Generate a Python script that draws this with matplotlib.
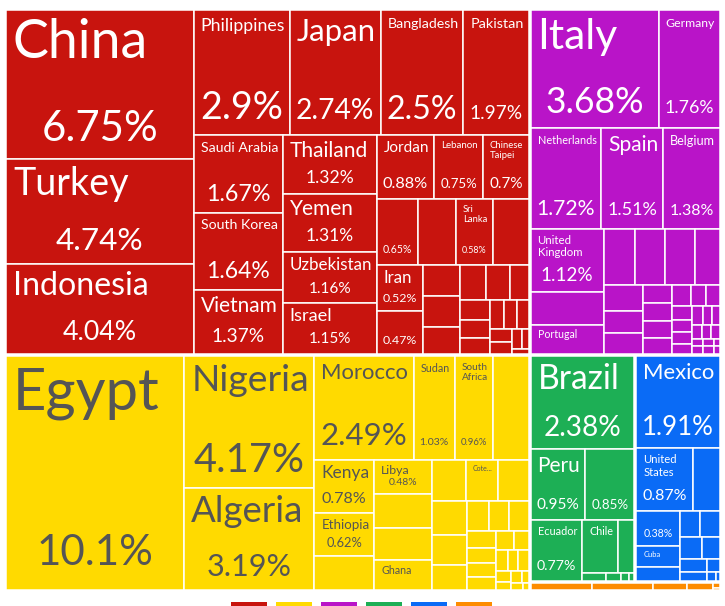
import matplotlib
matplotlib.use("Agg")
import matplotlib.pyplot as plt
from matplotlib.patches import Rectangle

# -------- DATA (share of total, %) --------
asia_names = ["China", "Turkey", "Indonesia", "Philippines", "Japan", "Bangladesh", "Pakistan",
              "Saudi Arabia", "South Korea", "Vietnam", "Thailand", "Yemen", "Uzbekistan", "Israel",
              "Jordan", "Lebanon", "Chinese\nTaipei", "", None, "Sri\nLanka", None, "Iran", ""]
asia_values = [6.75, 4.74, 4.04, 2.9, 2.74, 2.5, 1.97, 1.67, 1.64, 1.37, 1.32, 1.31, 1.16, 1.15,
               0.88, 0.75, 0.7, 0.65, 0.6, 0.58, 0.57, 0.52, 0.47, 0.28, 0.27, 0.24, 0.22, 0.2,
               0.16, 0.15, 0.13, 0.11, 0.1, 0.09, 0.08, 0.07, 0.06, 0.05, 0.03, 0.02]

africa_names = ["Egypt", "Nigeria", "Algeria", "Morocco", "Sudan", "South\nAfrica", None, "Kenya",
                "Ethiopia", None, "Libya", None, None, "Ghana", None, "Cote...", None]
africa_values = [10.1, 4.17, 3.19, 2.49, 1.03, 0.96, 0.9, 0.78, 0.62, 0.49, 0.48, 0.47, 0.45,
                 0.41, 0.34, 0.32, 0.31, 0.29, 0.25, 0.21, 0.16, 0.15, 0.14, 0.12, 0.11, 0.1,
                 0.09, 0.08, 0.07, 0.06, 0.05, 0.05, 0.04, 0.03, 0.03, 0.02, 0.02, 0.01]

europe_names = ["Italy", "Germany", "Netherlands", "Spain", "Belgium", "United\nKingdom", None,
                "Portugal"]
europe_values = [3.68, 1.76, 1.72, 1.51, 1.38, 1.12, 0.58, 0.52, 0.42, 0.41, 0.4, 0.34, 0.25,
                 0.21, 0.2, 0.13, 0.12, 0.12, 0.11, 0.1, 0.08, 0.07, 0.07, 0.06, 0.06, 0.05,
                 0.05, 0.04, 0.04, 0.03, 0.03, 0.03, 0.02, 0.02, 0.02, 0.02, 0.01, 0.01]

samerica_names = ["Brazil", "Peru", "", "Ecuador", "Chile"]
samerica_values = [2.38, 0.95, 0.85, 0.77, 0.47, 0.21, 0.045, 0.03, 0.015, 0.01]

namerica_names = ["Mexico", "United\nStates", None, "", "Cuba"]
namerica_values = [1.91, 0.87, 0.42, 0.38, 0.23, 0.15, 0.13, 0.125, 0.12, 0.1, 0.085, 0.06,
                   0.04, 0.02, 0.01]

oceania_names = []
oceania_values = [0.13, 0.13, 0.072, 0.055, 0.01, 0.005]

# names drawn without their value
name_only = {"Ghana", "Cote...", "Portugal", "Chile", "Cuba"}

continent_colors = ["#C8140E", "#FFDA00", "#B914C8", "#1DAF55", "#0A6BF6", "#FD8C00"]
text_colors = ["white", "#555555", "white", "white", "white", "white"]

groups = [
    (asia_names, asia_values),
    (africa_names, africa_values),
    (europe_names, europe_values),
    (samerica_names, samerica_values),
    (namerica_names, namerica_values),
    (oceania_names, oceania_values),
]

FONT = "Lato"
PHI = (1 + 5 ** 0.5) / 2


# -------- SQUARIFIED LAYOUT (same rule as d3.treemapSquarify) --------
def squarify(values, x0, y0, x1, y1, ratio=PHI):
    rects = []
    n = len(values)
    value = float(sum(values))
    i0 = i1 = 0
    while i0 < n:
        dx, dy = x1 - x0, y1 - y0
        sum_v = values[i1]
        i1 += 1
        min_v = max_v = sum_v
        alpha = max(dy / dx, dx / dy) / (value * ratio)
        beta = sum_v * sum_v * alpha
        min_ratio = max(max_v / beta, beta / min_v)
        while i1 < n:
            v = values[i1]
            sum_v += v
            min_v = min(min_v, v)
            max_v = max(max_v, v)
            beta = sum_v * sum_v * alpha
            new_ratio = max(max_v / beta, beta / min_v)
            if new_ratio > min_ratio:
                sum_v -= v
                break
            min_ratio = new_ratio
            i1 += 1
        row = values[i0:i1]
        if dx < dy:
            ny = y0 + dy * sum_v / value
            xx = x0
            for v in row:
                w = dx * v / sum_v
                rects.append((xx, y0, w, ny - y0))
                xx += w
            y0 = ny
        else:
            nx = x0 + dx * sum_v / value
            yy = y0
            for v in row:
                h = dy * v / sum_v
                rects.append((x0, yy, nx - x0, h))
                yy += h
            x0 = nx
        value -= sum_v
        i0 = i1
    return rects


# -------- FIGURE --------
fig = plt.figure(figsize=(7.25, 6.06), dpi=100)
ax = fig.add_axes([0, 0, 1, 1])
ax.set_xlim(0, 725)
ax.set_ylim(606, 0)
ax.axis("off")
renderer = fig.canvas.get_renderer()


def fit_px(s, avail_w, max_px):
    t = ax.text(0, 0, s, fontsize=max_px * 0.72, family=FONT)
    wd = t.get_window_extent(renderer).width
    t.remove()
    if wd > avail_w:
        return max_px * avail_w / wd
    return max_px


def add_label(x, y, w, h, name, val, color):
    avail = w - 12
    if avail <= 4:
        return
    if name:
        nlines = name.count("\n") + 1
        px = fit_px(name, avail, min(0.36 * h / nlines, 58))
        ax.text(x + 7, y + 4 + 0.03 * h, name, fontsize=px * 0.72, family=FONT, color=color,
                ha="left", va="top", linespacing=1.15)
    if name not in name_only:
        s = f"{val:g}%"
        px = fit_px(s, avail, min(0.3 * h, 42))
        ax.text(x + w / 2, y + h - (0.08 * h + 6), s, fontsize=px * 0.72, family=FONT,
                color=color, ha="center", va="baseline")


totals = [sum(v) for _, v in groups]
cont_rects = squarify(totals, 5, 9, 721, 591)

for (names, values), (cx, cy, cw, ch), fc, tc in zip(groups, cont_rects, continent_colors, text_colors):
    inner = squarify(values, cx + 1, cy + 1, cx + cw - 1, cy + ch - 1)
    for i, (x, y, w, h) in enumerate(inner):
        ax.add_patch(Rectangle((x, y), w, h, facecolor=fc, edgecolor="white", linewidth=1.1))
        name = names[i] if i < len(names) else None
        if name is not None:
            add_label(x, y, w, h, name, values[i], tc)

# -------- LEGEND (swatches at the bottom edge) --------
for i, fc in enumerate(continent_colors):
    ax.add_patch(Rectangle((231 + 45 * i, 602), 36, 12, facecolor=fc, edgecolor="none",
                           clip_on=False))

fig.savefig("out.png", dpi=100)
